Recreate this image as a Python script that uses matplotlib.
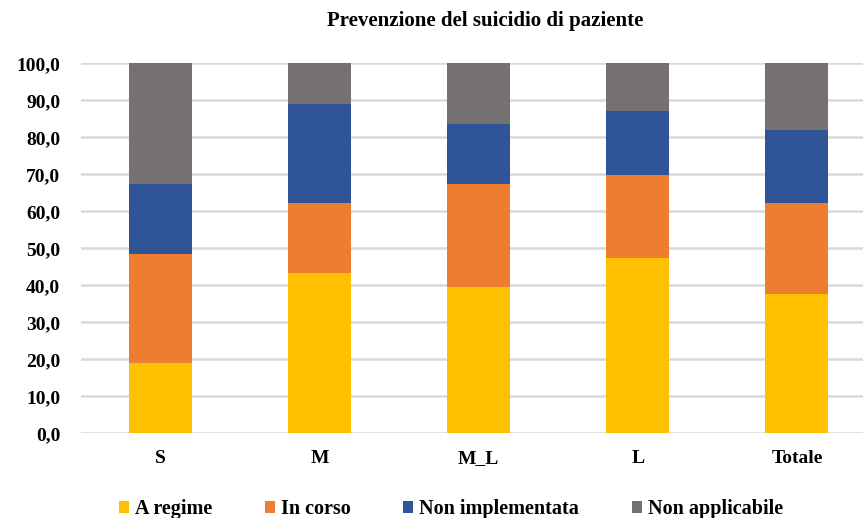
import matplotlib
matplotlib.use("Agg")
import matplotlib.pyplot as plt
import numpy as np

categories = ["S", "M", "M_L", "L", "Totale"]
series_names = ["A regime", "In corso", "Non implementata", "Non applicabile"]
a_regime = [18.9, 43.2, 39.5, 47.3, 37.6]
in_corso = [29.6, 19.0, 27.8, 22.6, 24.7]
non_impl = [18.9, 26.8, 16.3, 17.3, 19.7]
non_appl = [32.6, 11.0, 16.4, 12.8, 18.0]
colors = ["#FFC000", "#ED7D31", "#2F5597", "#767171"]
yticks = np.arange(0, 101, 10)

plt.rcParams['font.family'] = ['Liberation Serif', 'DejaVu Serif']
plt.rcParams['font.weight'] = 'bold'

fig = plt.figure(figsize=(8.63, 5.18), dpi=100)
ax = fig.add_axes([81/863, (518-433.3)/518, 782/863, 370/518])

x = np.arange(len(categories))
bottom = np.zeros(len(categories))
for name, vals, c in zip(series_names, [a_regime, in_corso, non_impl, non_appl], colors):
    ax.bar(x, vals, width=0.396, bottom=bottom, color=c, label=name, zorder=3)
    bottom += np.array(vals)

ax.set_xlim(-0.5, 4.415)
ax.set_ylim(0, 100)
ax.set_yticks(yticks)
ax.set_yticklabels([f"{v:.1f}".replace(".", ",") for v in yticks], fontsize=14, fontweight='bold')
ax.set_xticks(x)
ax.set_xticklabels(categories, fontsize=14, fontweight='bold')
ax.tick_params(axis='both', length=0)
ax.tick_params(axis='y', pad=15)
ax.tick_params(axis='x', pad=12)
ax.grid(axis='y', color='#D9D9D9', linewidth=1.8, zorder=0)
for s in ax.spines.values():
    s.set_visible(False)

fig.text(485/863, 1 - 21/518, "Prevenzione del suicidio di paziente", ha='center', va='center',
         fontsize=15, fontweight='bold')

fig.legend(loc='center', bbox_to_anchor=(451/863, 1 - 509/518), ncol=4, frameon=False,
           fontsize=14.5, handlelength=0.5, handleheight=0.5, handletextpad=0.3, columnspacing=2.6)

fig.savefig("out.png", dpi=100)
